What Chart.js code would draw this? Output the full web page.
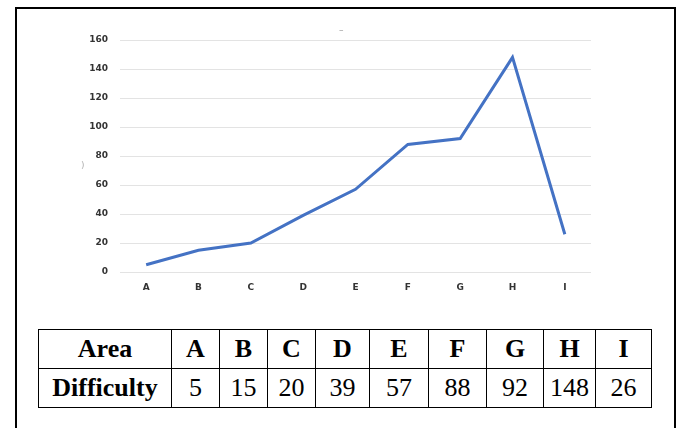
<!DOCTYPE html>
<html>
<head>
<meta charset="utf-8">
<script src="https://cdn.jsdelivr.net/npm/chart.js"></script>
<style>
  body { margin: 0; background: #fff; width: 680px; height: 428px; overflow: hidden; position: relative; }
  #frame { position: absolute; left: 15px; top: 7px; width: 661px; height: 460px; border: 2px solid #000; box-sizing: border-box; }
  #chart-wrap { position: absolute; left: 0; top: 0; width: 680px; height: 310px; }
  .mark { position: absolute; font-family: "DejaVu Sans", sans-serif; color: #9a9a9a; font-size: 9px; line-height: 9px; }
  #diff-table { position: absolute; left: 38px; top: 329px; border-collapse: collapse; font-family: "Liberation Serif", "Times New Roman", serif; color: #000; }
  #diff-table td { border: 1.5px solid #000; height: 39px; padding: 0; text-align: center; box-sizing: border-box; }
  #diff-table tr:first-child td { font-weight: bold; font-size: 26px; }
  #diff-table tr:last-child td { font-size: 26px; }
  #diff-table td.head { font-weight: bold; font-size: 26px !important; }
</style>
</head>
<body>
<div id="frame"></div>
<div id="chart-wrap"><canvas id="difficulty-chart" width="680" height="310"></canvas></div>
<span class="mark" style="left:339px; top:26px;">–</span>
<span class="mark" style="left:81px; top:161px; color:#b0b0b0;">)</span>
<table id="diff-table"></table>

<script>
const areas = ['A', 'B', 'C', 'D', 'E', 'F', 'G', 'H', 'I'];
const difficulty = [5, 15, 20, 39, 57, 88, 92, 148, 26];
const yTicks = [0, 20, 40, 60, 80, 100, 120, 140, 160];
const colWidths = [133, 48, 48, 48, 54, 59, 58, 57, 52, 56];

// table under the chart
function buildTable() {
    const table = document.getElementById('diff-table');
    const rows = [['Area', ...areas], ['Difficulty', ...difficulty]];
    rows.forEach((cells) => {
        const tr = document.createElement('tr');
        cells.forEach((text, i) => {
            const td = document.createElement('td');
            td.textContent = text;
            td.style.width = colWidths[i] + 'px';
            if (i === 0) td.className = 'head';
            tr.appendChild(td);
        });
        table.appendChild(tr);
    });
}

function createChart() {
    const canvas = document.getElementById('difficulty-chart');
    new Chart(canvas.getContext('2d'), {
        type: 'line',
        data: {
            labels: areas,
            datasets: [{
                data: difficulty,
                borderColor: '#4472C4',
                borderWidth: 3,
                pointRadius: 0,
                tension: 0,
                fill: false
            }]
        },
        options: {
            responsive: false,
            animation: false,
            layout: { padding: { left: 80, right: 89, top: 40, bottom: 17 } },
            plugins: { legend: { display: false }, tooltip: { enabled: false } },
            scales: {
                x: {
                    offset: true,
                    afterFit: (axis) => { axis.height = 21; },
                    grid: { display: false, drawTicks: false },
                    border: { display: false },
                    ticks: { color: '#333', padding: 10, maxRotation: 0, font: { family: 'DejaVu Sans', size: 9, weight: 'bold' } }
                },
                y: {
                    min: 0,
                    max: 160,
                    afterBuildTicks: (axis) => { axis.ticks = yTicks.map(v => ({ value: v })); },
                    afterFit: (axis) => { axis.width = 40; },
                    grid: { color: '#e3e3e3', lineWidth: 1, drawTicks: false },
                    border: { display: false },
                    ticks: { color: '#333', padding: 12, font: { family: 'DejaVu Sans', size: 9, weight: 'bold' } }
                }
            }
        }
    });
}

buildTable();
createChart();
</script>
</body>
</html>
